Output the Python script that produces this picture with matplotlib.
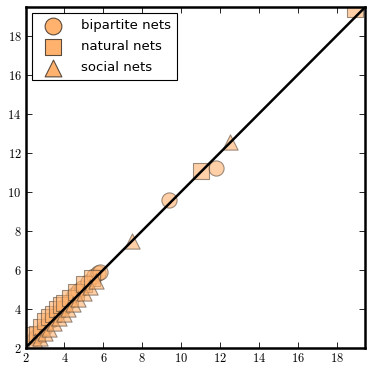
import matplotlib.pyplot as plt
from matplotlib.ticker import FuncFormatter

plt.rcParams['mathtext.fontset'] = 'cm'

# data
bip_x = [2.5, 2.7, 3.0, 3.3, 3.6, 3.9, 4.2, 4.5, 4.7, 4.9, 5.2, 5.5, 5.7, 5.85, 9.35, 11.8]
bip_y = [2.5, 2.75, 3.05, 3.4, 3.75, 4.05, 4.35, 4.7, 4.9, 5.05, 5.35, 5.7, 5.85, 5.9, 9.55, 11.2]
nat_x = [2.4, 2.6, 2.8, 3.0, 3.2, 3.4, 3.6, 3.8, 4.0, 4.3, 4.6, 5.0, 5.4, 11.0, 18.95]
nat_y = [2.65, 2.7, 3.05, 3.35, 3.55, 3.75, 4.0, 4.2, 4.3, 4.55, 4.85, 5.25, 5.55, 11.05, 19.38]
soc_x = [2.5, 2.75, 3.0, 3.2, 3.45, 3.7, 3.95, 4.2, 4.45, 4.7, 5.0, 5.3, 5.6, 7.45, 12.5]
soc_y = [2.35, 2.5, 2.75, 2.95, 3.25, 3.5, 3.75, 4.0, 4.25, 4.5, 4.8, 5.1, 5.4, 7.45, 12.55]

lo, hi = 2, 19.45

fig = plt.figure(figsize=(3.73, 3.71), dpi=100)
ax = fig.add_axes([25.6 / 373, 23.3 / 371, 339.4 / 373, 340.4 / 371])

fc = '#ffb26e'
ec = '#5a4a3c'
kw = dict(s=120, facecolor=fc, edgecolor=ec, linewidth=0.8, alpha=0.6, zorder=2)
ax.scatter(bip_x, bip_y, marker='o', label='bipartite nets', **kw)
ax.scatter(nat_x, nat_y, marker='s', label='natural nets', **kw)
ax.scatter(soc_x, soc_y, marker='^', label='social nets', **kw)
ax.plot([lo, hi], [lo, hi], color='black', lw=1.8, zorder=3)

ax.set_xlim(lo, hi)
ax.set_ylim(lo, hi)
ticks = [2, 4, 6, 8, 10, 12, 14, 16, 18]
ax.set_xticks(ticks)
ax.set_yticks(ticks)
fmt = FuncFormatter(lambda v, p: r'$\mathbf{%d}$' % v)
ax.xaxis.set_major_formatter(fmt)
ax.yaxis.set_major_formatter(fmt)
ax.tick_params(direction='in', top=True, right=True, length=4, width=0.6,
               labelsize=9, pad=3)
for s in ax.spines.values():
    s.set_linewidth(1.8)

leg = ax.legend(loc='upper left', fontsize=9.5, scatterpoints=1, fancybox=False,
                edgecolor='black', framealpha=1, borderpad=0.45, markerscale=1.1,
                handletextpad=1.0, labelspacing=0.6, borderaxespad=0.45,
                handlelength=2.3)
leg.get_frame().set_linewidth(0.8)
for h in leg.legend_handles:
    h.set_alpha(1)

fig.savefig('out.png', dpi=100)
